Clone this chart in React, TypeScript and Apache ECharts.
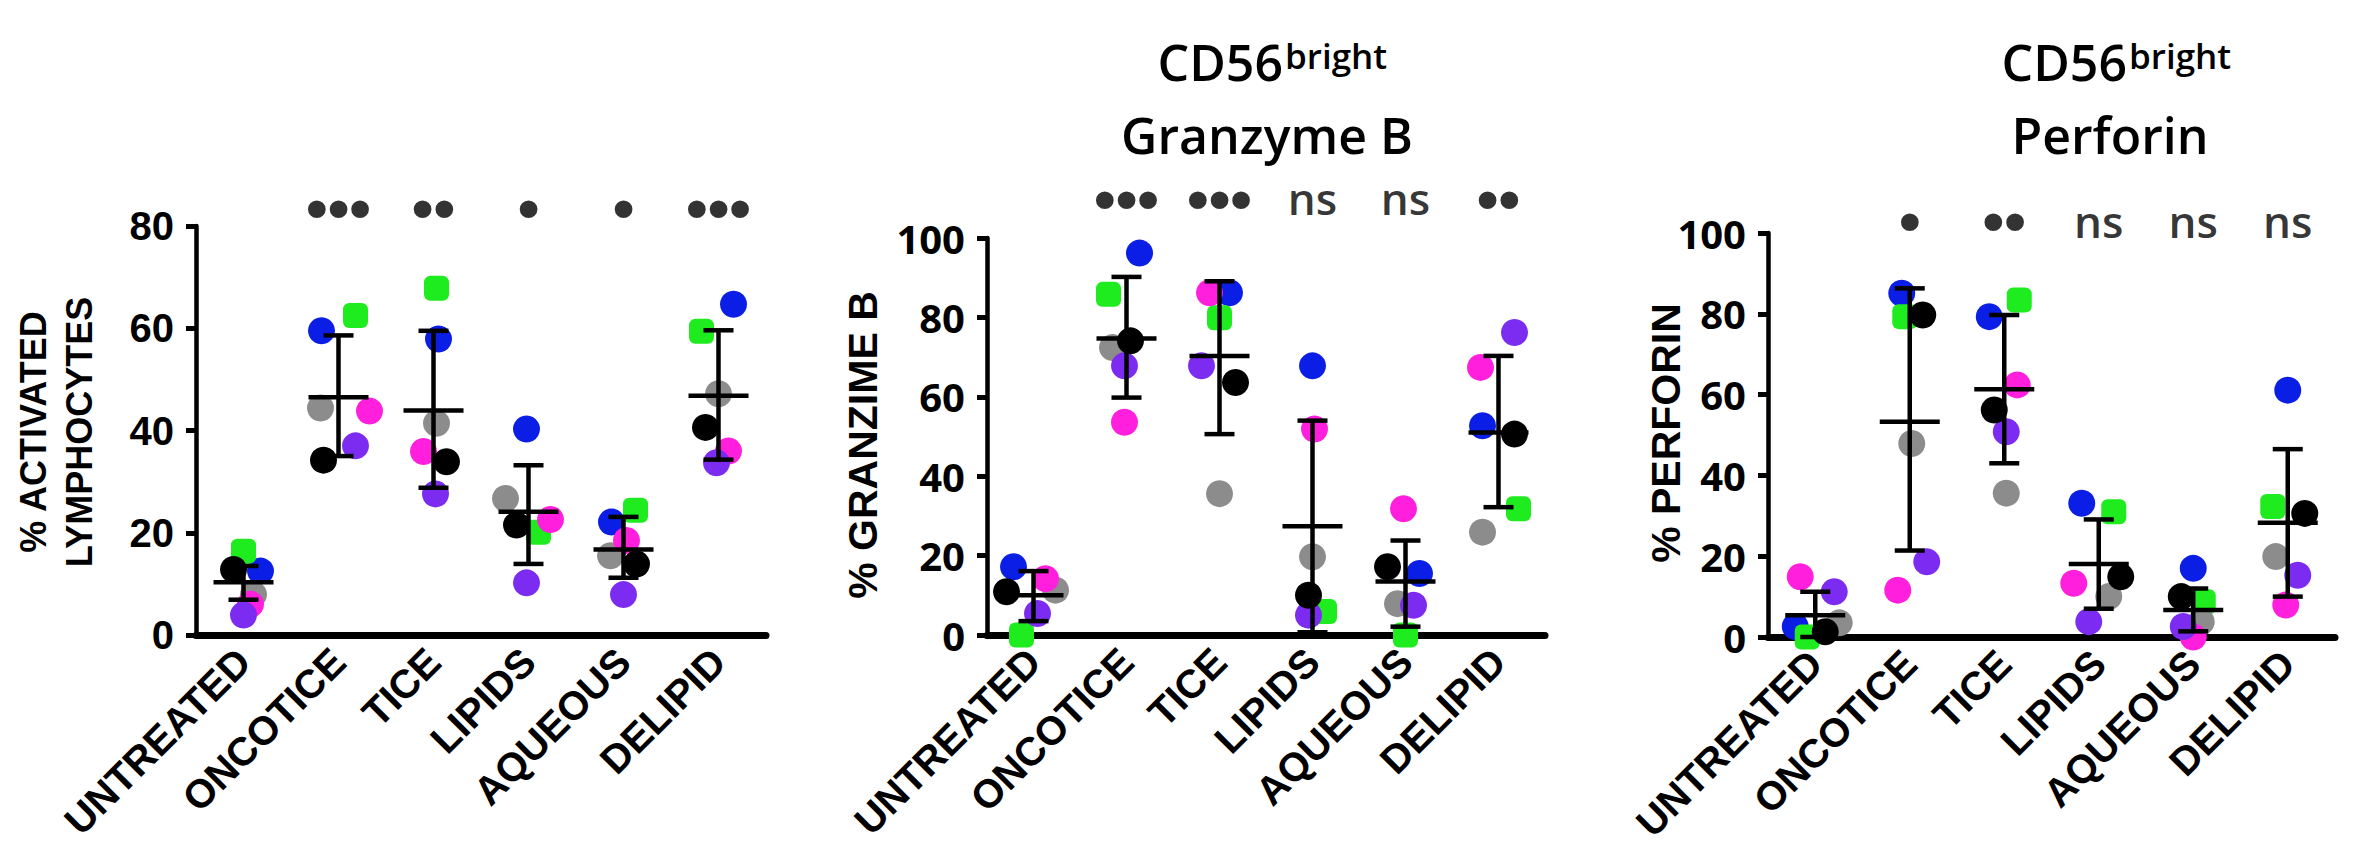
import React, { useEffect, useRef } from "react";
import * as echarts from "echarts";

// ---------- DATA ----------
const categories = ["UNTREATED", "ONCOTICE", "TICE", "LIPIDS", "AQUEOUS", "DELIPID"];
const donorNames = ["Donor 1", "Donor 2", "Donor 3", "Donor 4", "Donor 5", "Donor 6"];

// Panel 1: % activated lymphocytes
const activatedD1 = [12.5, 59.5, 57.9, 40.3, 22.1, 64.7];
const activatedD2 = [16.4, 62.5, 67.8, 20.1, 24.4, 59.4];
const activatedD3 = [7.9, 44.4, 41.4, 26.7, 15.5, 47.2];
const activatedD4 = [6.0, 43.8, 35.9, 22.6, 18.5, 36.0];
const activatedD5 = [3.9, 37.0, 27.6, 10.2, 7.9, 33.7];
const activatedD6 = [12.8, 34.2, 33.9, 21.5, 13.9, 40.6];
const activatedMean = [10.3, 46.5, 43.9, 24.1, 16.7, 46.8];
const activatedLower = [6.9, 35.0, 28.8, 13.9, 11.2, 34.3];
const activatedUpper = [13.5, 58.6, 59.5, 33.2, 23.1, 59.6];
const activatedSig = ["", "•••", "••", "•", "•", "•••"];

// Panel 2: CD56bright Granzyme B
const granzymeD1 = [17.2, 96.2, 86.2, 67.8, 15.5, 52.7];
const granzymeD2 = [0, 85.8, 79.9, 5.9, 0, 31.8];
const granzymeD3 = [11.3, 72.4, 35.6, 19.7, 7.9, 25.9];
const granzymeD4 = [14.2, 53.6, 86.2, 51.9, 31.8, 67.4];
const granzymeD5 = [5.4, 67.8, 67.8, 5.0, 7.5, 76.2];
const granzymeD6 = [10.9, 74.1, 63.6, 10.0, 17.2, 50.6];
const granzymeMean = [10.0, 74.7, 70.3, 27.4, 13.5, 51.0];
const granzymeLower = [3.5, 59.8, 50.6, 0.7, 2.1, 32.2];
const granzymeUpper = [16.1, 90.2, 89.1, 54.0, 23.8, 70.3];
const granzymeSig = ["", "•••", "•••", "ns", "ns", "••"];

// Panel 3: CD56bright Perforin
const perforinD1 = [2.6, 85.1, 79.3, 33.1, 17.0, 61.1];
const perforinD2 = [0, 79.3, 83.4, 31.0, 8.7, 32.3];
const perforinD3 = [3.5, 47.9, 35.6, 10.0, 3.8, 19.9];
const perforinD4 = [14.9, 11.6, 62.4, 13.3, 0, 7.9];
const perforinD5 = [11.2, 18.6, 50.8, 3.8, 2.6, 15.3];
const perforinD6 = [1.3, 79.7, 56.2, 14.9, 10.0, 30.6];
const perforinMean = [5.4, 53.3, 61.3, 18.1, 6.7, 28.3];
const perforinLower = [0, 21.4, 43.0, 7.0, 1.4, 10.0];
const perforinUpper = [11.2, 86.3, 79.7, 29.1, 12.0, 46.5];
const perforinSig = ["", "•", "••", "ns", "ns", "ns"];

// axis ranges (tick labels 0,20,...)
const activatedTicks = [0, 20, 40, 60, 80];
const percentTicks = [0, 20, 40, 60, 80, 100];

// ---------- STYLE / LAYOUT ----------
const donorColors = ["#0b1ee6", "#1fec1f", "#8c8c8c", "#ff1fdc", "#7b2cf0", "#000000"];
const donorSymbols = ["circle", "roundRect", "circle", "circle", "circle", "circle"];

// horizontal scatter (px) per panel, donor, category
const jitter = [
  [
    [17, -17, 5, -2, -12, 15],
    [0, 17, 3, 10, 12, -17],
    [10, -18, 3, -23, -13, 0],
    [7, 31, -10, 22, 3, 10],
    [0, 17, 2, -2, 0, -2],
    [-10, -15, 13, -12, 13, -13],
  ],
  [
    [-20, 13, 10, 0, 14, -16],
    [-12, -18, 0, 12, 0, 20],
    [22, -14, 0, 0, -8, -16],
    [12, -2, -10, 2, -2, -18],
    [4, -2, -18, -4, 8, 16],
    [-27, 4, 16, -4, -18, 16],
  ],
  [
    [-20, -8, -15, -17, 0, 0],
    [-8, -5, 15, 15, 10, -15],
    [24, 2, 2, 10, 8, -12],
    [-15, -12, 13, -25, 0, -2],
    [19, 17, 2, -10, -10, 10],
    [10, 13, -10, 22, -12, 17],
  ],
];

const FONT_A = "'Liberation Sans', Arial, sans-serif";
const FONT_B = "'Open Sans', 'Noto Sans', sans-serif";

const grids = [
  { left: 196, top: 226, width: 570, height: 409 },
  { left: 987, top: 238, width: 558, height: 397 },
  { left: 1768, top: 233, width: 567, height: 404 },
];

const panels = [
  {
    donors: [activatedD1, activatedD2, activatedD3, activatedD4, activatedD5, activatedD6],
    mean: activatedMean, lower: activatedLower, upper: activatedUpper, sig: activatedSig,
    ticks: activatedTicks, sigY: 83.7, tickFont: FONT_A,
  },
  {
    donors: [granzymeD1, granzymeD2, granzymeD3, granzymeD4, granzymeD5, granzymeD6],
    mean: granzymeMean, lower: granzymeLower, upper: granzymeUpper, sig: granzymeSig,
    ticks: percentTicks, sigY: 110, tickFont: FONT_B,
  },
  {
    donors: [perforinD1, perforinD2, perforinD3, perforinD4, perforinD5, perforinD6],
    mean: perforinMean, lower: perforinLower, upper: perforinUpper, sig: perforinSig,
    ticks: percentTicks, sigY: 103, tickFont: FONT_B,
  },
];

function buildOption() {
  const xAxis: any[] = [];
  const yAxis: any[] = [];
  const series: any[] = [];

  panels.forEach((p, pi) => {
    xAxis.push({
      type: "category",
      gridIndex: pi,
      data: categories,
      boundaryGap: true,
      axisLine: { lineStyle: { color: "#000", width: 7 } },
      axisTick: { alignWithLabel: true, length: 12, lineStyle: { color: "#000", width: 3.5 } },
      axisLabel: {
        interval: 0,
        rotate: 45,
        margin: 20,
        color: "#000",
        fontFamily: FONT_A,
        fontWeight: "bold",
        fontSize: 40,
      },
      splitLine: { show: false },
    });
    const ticks = p.ticks;
    yAxis.push({
      type: "value",
      gridIndex: pi,
      min: ticks[0],
      max: ticks[ticks.length - 1],
      interval: ticks[1] - ticks[0],
      axisLine: { show: true, lineStyle: { color: "#000", width: 4.5 } },
      axisTick: { show: true, length: 10, lineStyle: { color: "#000", width: 5 } },
      axisLabel: {
        margin: 22,
        color: "#000",
        fontFamily: p.tickFont,
        fontWeight: "bold",
        fontSize: 40,
      },
      splitLine: { show: false },
    });

    p.donors.forEach((vals, di) => {
      series.push({
        type: "scatter",
        name: donorNames[di],
        xAxisIndex: pi,
        yAxisIndex: pi,
        clip: false,
        symbol: donorSymbols[di],
        symbolSize: di === 1 ? 25 : 27,
        itemStyle: { color: donorColors[di], opacity: 1 },
        z: 3,
        data: vals.map((v, ci) => ({
          value: [ci, v],
          symbolOffset: [jitter[pi][di][ci], 0],
        })),
      });
    });

    series.push({
      type: "custom",
      xAxisIndex: pi,
      yAxisIndex: pi,
      z: 5,
      clip: false,
      encode: { x: 0, y: [1, 2, 3] },
      data: p.mean.map((m, ci) => [ci, m, p.lower[ci], p.upper[ci]]),
      renderItem: (_params: any, api: any) => {
        const c = api.value(0);
        const pm = api.coord([c, api.value(1)]);
        const pl = api.coord([c, api.value(2)]);
        const ph = api.coord([c, api.value(3)]);
        const cx = pm[0];
        const st = { stroke: "#000", lineWidth: 4.5 };
        return {
          type: "group",
          children: [
            { type: "line", shape: { x1: cx, y1: pl[1], x2: cx, y2: ph[1] }, style: st },
            { type: "line", shape: { x1: cx - 15, y1: pl[1], x2: cx + 15, y2: pl[1] }, style: st },
            { type: "line", shape: { x1: cx - 15, y1: ph[1], x2: cx + 15, y2: ph[1] }, style: st },
            { type: "line", shape: { x1: cx - 30, y1: pm[1], x2: cx + 30, y2: pm[1] }, style: st },
          ],
        };
      },
    });

    series.push({
      type: "scatter",
      xAxisIndex: pi,
      yAxisIndex: pi,
      clip: false,
      symbolSize: 1,
      silent: true,
      itemStyle: { color: "rgba(0,0,0,0)" },
      data: p.sig.map((_s, ci) => [ci, p.sigY]),
      label: {
        show: true,
        position: "inside",
        formatter: (prm: any) => {
          const s = p.sig[prm.dataIndex];
          if (!s) return "";
          return s === "ns" ? "{n|ns}" : "{d|" + s + "}";
        },
        rich: {
          d: { fontFamily: FONT_A, fontWeight: "bold", fontSize: 62, color: "#000" },
          n: { fontFamily: FONT_B, fontWeight: 600, fontSize: 44, color: "#000" },
        },
      },
    });
  });

  const titleStyle = (text: string, size: number, align: string) => ({
    text,
    fontFamily: FONT_B,
    fontWeight: 600,
    fontSize: size,
    fill: "#000",
    align,
    verticalAlign: "middle",
  });

  const graphic: any[] = [
    // y axis names
    {
      type: "text", x: 56, y: 432, rotation: Math.PI / 2,
      style: { text: "% ACTIVATED\nLYMPHOCYTES", fontFamily: FONT_A, fontWeight: "bold", fontSize: 36, lineHeight: 46, fill: "#000", align: "center", verticalAlign: "middle" },
    },
    {
      type: "text", x: 863, y: 445, rotation: Math.PI / 2,
      style: { text: "% GRANZIME B", fontFamily: FONT_A, fontWeight: "bold", fontSize: 41, fill: "#000", align: "center", verticalAlign: "middle" },
    },
    {
      type: "text", x: 1666, y: 433, rotation: Math.PI / 2,
      style: { text: "% PERFORIN", fontFamily: FONT_A, fontWeight: "bold", fontSize: 41, fill: "#000", align: "center", verticalAlign: "middle" },
    },
    // titles
    { type: "text", x: 1283, y: 62, style: titleStyle("CD56", 50, "right") },
    { type: "text", x: 1285, y: 55, style: titleStyle("bright", 35, "left") },
    { type: "text", x: 1267, y: 135, style: titleStyle("Granzyme B", 50, "center") },
    { type: "text", x: 2127, y: 62, style: titleStyle("CD56", 50, "right") },
    { type: "text", x: 2129, y: 55, style: titleStyle("bright", 35, "left") },
    { type: "text", x: 2110, y: 135, style: titleStyle("Perforin", 50, "center") },
  ];

  return {
    animation: false,
    backgroundColor: "#ffffff",
    grid: grids.map((g) => ({ ...g, containLabel: false })),
    xAxis,
    yAxis,
    series,
    graphic,
  };
}

export default function App() {
  const ref = useRef<HTMLDivElement>(null);
  useEffect(() => {
    if (!ref.current) return;
    const chart = echarts.init(ref.current, undefined, { renderer: "svg" });
    chart.setOption(buildOption() as any);
    return () => chart.dispose();
  }, []);
  return (
    <div
      ref={ref}
      style={{ position: "fixed", left: 0, top: 0, width: 2362, height: 849, background: "#fff" }}
    />
  );
}
